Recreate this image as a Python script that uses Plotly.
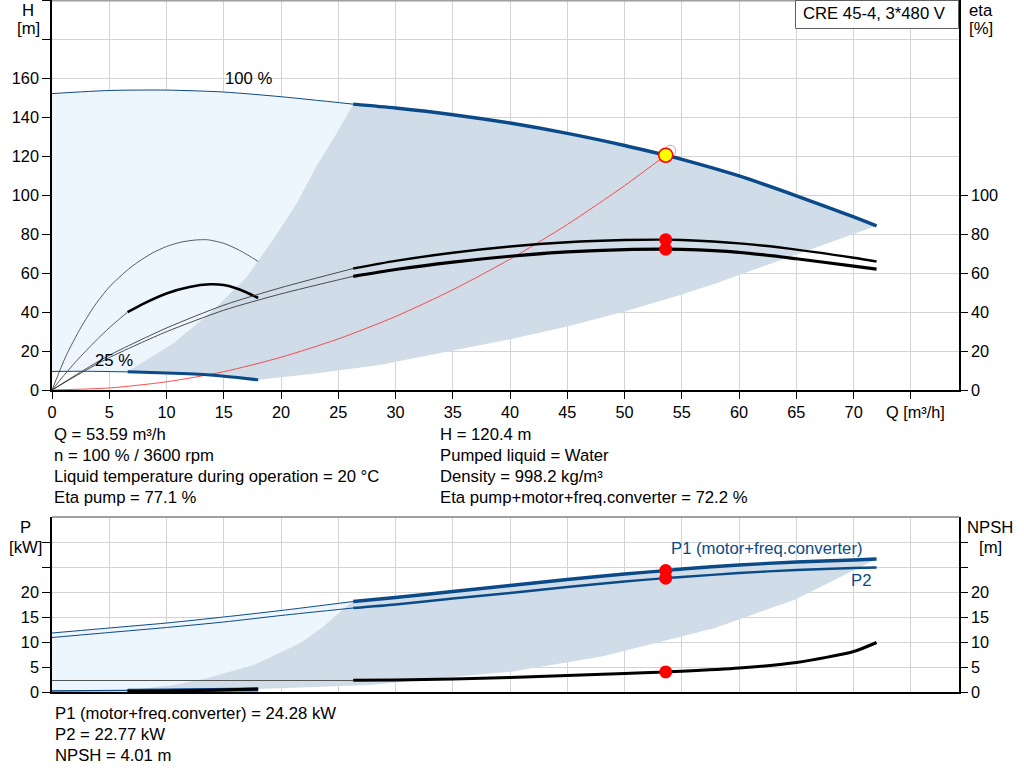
import plotly.graph_objects as go

# ---- data ----
# 100 % speed, head curve (thin part then thick part)
H100_THIN_Q = [0, 5, 10, 15, 20, 26.3]
H100_THIN_H = [152, 153.6, 153.8, 152.8, 150.4, 146.6]
H100_Q = [26.3, 30, 35, 40, 45, 50, 53.59, 55, 60, 65, 70, 72]
H100_H = [146.6, 144.6, 141.2, 136.9, 131.6, 125.4, 120.4, 118.3, 109.8, 99.6, 88.8, 84.2]

# 25 % speed, head curve
H25_THIN_Q = [0, 3, 6.6]
H25_THIN_H = [9.5, 9.6, 9.3]
H25_Q = [6.6, 10, 13.8, 16, 18]
H25_H = [9.3, 8.7, 7.7, 6.5, 5.2]

# eta pump / eta total at 100 %
ETA_P100_THIN_Q = [0, 2.5, 5, 10, 15, 20, 26.3]
ETA_P100_THIN = [0, 9.2, 17.8, 31.8, 43.5, 52.5, 62.3]
ETA_T100_THIN = [0, 8.6, 16.6, 29.9, 40.9, 49.3, 58.3]
ETA100_Q = [26.3, 30, 35, 40, 45, 50, 53.59, 55, 60, 65, 70, 72]
ETA_P100 = [62.3, 66.2, 70.4, 73.6, 75.8, 76.9, 77.1, 76.9, 75.2, 72.0, 67.8, 65.9]
ETA_T100 = [58.3, 61.8, 65.6, 68.6, 70.8, 72.0, 72.2, 72.1, 70.6, 67.3, 63.5, 62.0]

# eta at 25 %
ETA_P25_Q = [0, 1.25, 2.5, 3.75, 5, 6.6, 7.5, 8.75, 10, 11.25, 12.5, 13.4, 13.75, 15, 16.25, 17.5, 18]
ETA_P25 = [0, 17.8, 31.8, 43.5, 52.8, 61.6, 65.6, 70.2, 73.6, 75.8, 76.9, 77.1, 76.9, 75.2, 72.0, 67.8, 65.9]
ETA_T25_THIN_Q = [0, 1, 2, 3, 4, 5, 6, 6.6]
ETA_T25_THIN = [0, 7.2, 14, 20.3, 26.3, 31.9, 37, 39.9]
ETA_T25_Q = [6.6, 8, 10, 12, 13.8, 15, 16, 17, 18]
ETA_T25 = [39.9, 44.3, 49.5, 52.8, 54.2, 53.8, 52.3, 50.0, 47.2]

# system curve
SYS_Q = [0, 5, 10, 15, 20, 25, 30, 35, 40, 45, 50, 53.59]
SYS_H = [0, 1.05, 4.2, 9.4, 16.8, 26.2, 37.7, 51.4, 67.1, 84.9, 104.8, 120.4]

# operating range boundaries (top)
EDGE_Q = [6.6, 10.6, 14.1, 17, 19.3, 21.4, 23.1, 24.9, 26.3]
EDGE_H = [9.3, 24, 41, 58, 77, 96, 115, 132, 146.6]
LOW_Q = [72, 65, 58, 55, 50, 45, 40, 35, 28.6, 23, 18]
LOW_H = [84.2, 69.5, 54.8, 49, 40.2, 32.6, 26, 20.2, 12.8, 8.5, 5.2]

# power curves
P_THIN_Q = [0, 5, 10, 15, 20, 26.3]
P1_THIN = [11.8, 12.8, 13.8, 15.0, 16.3, 18.1]
P2_THIN = [10.9, 11.9, 12.9, 14.0, 15.3, 16.8]
P_Q = [26.3, 30, 35, 40, 45, 50, 53.59, 55, 60, 65, 70, 72]
P1 = [18.1, 18.9, 20.1, 21.3, 22.5, 23.6, 24.28, 24.6, 25.4, 26.0, 26.4, 26.6]
P2 = [16.8, 17.5, 18.7, 19.8, 21.0, 22.1, 22.77, 23.0, 23.8, 24.4, 24.8, 24.9]
P25_THIN_Q = [0, 6.6]
P1_25_THIN = [0.25, 0.35]
P2_25_THIN = [0.17, 0.27]
P25_Q = [6.6, 10, 14, 18]
P1_25 = [0.35, 0.42, 0.5, 0.6]
P2_25 = [0.27, 0.31, 0.36, 0.4]

# NPSH
NPSH_THIN_Q = [0, 26.3]
NPSH_THIN = [2.3, 2.3]
NPSH_Q = [26.3, 30, 35, 40, 45, 50, 53.59, 55, 60, 65, 70, 72]
NPSH = [2.35, 2.4, 2.6, 2.9, 3.3, 3.7, 4.01, 4.15, 4.8, 5.9, 8.1, 9.9]
NPSH25_Q = [6.6, 10, 14, 18]
NPSH25 = [0.15, 0.22, 0.35, 0.62]

# operating range boundaries (bottom)
P_EDGE_Q = [6.6, 10.6, 13.5, 17.6, 21.7, 23.7, 25.7, 26.3]
P_EDGE_P = [0.35, 1.4, 2.75, 5.4, 9.8, 13.1, 17.1, 18.1]
P_LOW_Q = [72, 64.9, 57.9, 48, 40.2, 35, 27.8, 18]
P_LOW_P = [26.6, 18.5, 12.8, 7.1, 4.1, 3.0, 1.4, 0.6]

# duty point
DUTY_Q = 53.59
DUTY_H = 120.4
DUTY_ETA = [77.1, 72.2]
DUTY_P = [24.28, 22.77]
DUTY_NPSH = 4.01

X_TICKS = list(range(0, 80, 5))
X_TEXT = [str(v) for v in range(0, 75, 5)] + ["  Q [m³/h]"]

INFO_LEFT = ["Q = 53.59 m³/h", "n = 100 % / 3600 rpm",
             "Liquid temperature during operation = 20 °C", "Eta pump = 77.1 %"]
INFO_RIGHT = ["H = 120.4 m", "Pumped liquid = Water",
              "Density = 998.2 kg/m³", "Eta pump+motor+freq.converter = 72.2 %"]
INFO_BOTTOM = ["P1 (motor+freq.converter) = 24.28 kW", "P2 = 22.77 kW", "NPSH = 4.01 m"]

BLUE = "#0b4a88"
LIGHT = "#edf5fd"
DARK = "#d0dce8"
FONT = "Liberation Sans, Arial, sans-serif"
TXT = 16.7   # annotation text size
TCK = 16.3   # tick label size

# figure pixel geometry
W, HGT = 1024, 781
ML, MR, MT, MB = 52, 65, 0, 89
PW = W - ML - MR
PH = HGT - MT - MB


def px(x):
    return (x - ML) / PW


def py(y):
    return 1 - (y - MT) / PH


fig = go.Figure()


def line(x, y, color, width, xa="x", ya="y"):
    fig.add_trace(go.Scatter(x=x, y=y, mode="lines", xaxis=xa, yaxis=ya,
                             line=dict(color=color, width=width, shape="spline",
                                       smoothing=0.7),
                             hoverinfo="skip"))


def poly(x, y, color, xa="x", ya="y"):
    fig.add_trace(go.Scatter(x=x, y=y, mode="lines", fill="toself", fillcolor=color,
                             line=dict(width=0, color=color), xaxis=xa, yaxis=ya,
                             hoverinfo="skip"))


# top: regions
poly(H100_THIN_Q + EDGE_Q[::-1] + H25_THIN_Q[::-1],
     H100_THIN_H + EDGE_H[::-1] + H25_THIN_H[::-1], LIGHT)
poly(EDGE_Q + H100_Q + LOW_Q + H25_Q[::-1],
     EDGE_H + H100_H + LOW_H + H25_H[::-1], DARK)

# top: curves
line(SYS_Q, SYS_H, "#ff3a3a", 0.9)
line(ETA_P25_Q, ETA_P25, "#4a4a4a", 0.9)
line(ETA_T25_THIN_Q, ETA_T25_THIN, "#4a4a4a", 0.9)
line(ETA_T25_Q, ETA_T25, "black", 2.6)
line(ETA_P100_THIN_Q, ETA_P100_THIN, "#3a3a3a", 0.9)
line(ETA_P100_THIN_Q, ETA_T100_THIN, "#3a3a3a", 0.9)
line(ETA100_Q, ETA_P100, "black", 2.4)
line(ETA100_Q, ETA_T100, "black", 3.2)
line(H100_THIN_Q, H100_THIN_H, BLUE, 1)
line(H100_Q, H100_H, BLUE, 3.5)
line(H25_THIN_Q, H25_THIN_H, BLUE, 1)
line(H25_Q, H25_H, BLUE, 3)

fig.add_trace(go.Scatter(x=[DUTY_Q, DUTY_Q], y=DUTY_ETA, mode="markers",
                         marker=dict(color="#ff0000", size=13), hoverinfo="skip"))
fig.add_trace(go.Scatter(x=[DUTY_Q + 0.4], y=[DUTY_H + 2.3], mode="markers",
                         marker=dict(symbol="circle-open", color="#ff8a8a", size=11,
                                     line=dict(width=1)), hoverinfo="skip"))
fig.add_trace(go.Scatter(x=[DUTY_Q], y=[DUTY_H], mode="markers",
                         marker=dict(color="#ffff00", size=14,
                                     line=dict(color="#ff0000", width=1.6)),
                         hoverinfo="skip"))

# bottom: regions
poly(P_THIN_Q + P_EDGE_Q[::-1] + P25_THIN_Q[::-1],
     P1_THIN + P_EDGE_P[::-1] + P1_25_THIN[::-1], LIGHT, "x2", "y3")
poly(P_EDGE_Q + P_Q + P_LOW_Q + P25_Q[::-1],
     P_EDGE_P + P1 + P_LOW_P + P1_25[::-1], DARK, "x2", "y3")

# bottom: curves
line(NPSH_THIN_Q, NPSH_THIN, "#555555", 1, "x2", "y3")
line(P_THIN_Q, P1_THIN, BLUE, 1, "x2", "y3")
line(P_THIN_Q, P2_THIN, BLUE, 1, "x2", "y3")
line(P_Q, P1, BLUE, 3.4, "x2", "y3")
line(P_Q, P2, BLUE, 2.4, "x2", "y3")
line(P25_THIN_Q, P1_25_THIN, BLUE, 1, "x2", "y3")
line(P25_THIN_Q, P2_25_THIN, BLUE, 1, "x2", "y3")
line(P25_Q, P1_25, BLUE, 3, "x2", "y3")
line(P25_Q, P2_25, BLUE, 3, "x2", "y3")
line(NPSH25_Q, NPSH25, "black", 3, "x2", "y3")
line(NPSH_Q, NPSH, "black", 3, "x2", "y3")

fig.add_trace(go.Scatter(x=[DUTY_Q] * 3, y=DUTY_P + [DUTY_NPSH], mode="markers",
                         xaxis="x2", yaxis="y3",
                         marker=dict(color="#ff0000", size=13), hoverinfo="skip"))

TOP_DOM = [py(390), 1]
BOT_DOM = [0, py(517)]
grid = dict(showgrid=True, gridcolor="#d4d4d4", gridwidth=1.3, zeroline=False)
tickfont = dict(family=FONT, size=TCK, color="black")

fig.update_layout(
    width=W, height=HGT,
    margin=dict(l=ML, r=MR, t=MT, b=MB),
    paper_bgcolor="white", plot_bgcolor="white",
    showlegend=False,
    font=dict(family=FONT, size=TXT, color="black"),
    xaxis=dict(domain=[0, 1], anchor="y", range=[0, 79.2], tickmode="array",
               tickvals=X_TICKS, ticktext=X_TEXT, ticks="outside", ticklen=7,
               tickcolor="black", showline=True, linecolor="black", linewidth=1.5,
               tickfont=tickfont, **grid),
    yaxis=dict(domain=TOP_DOM, anchor="x", range=[0, 200], tickmode="array",
               tickvals=list(range(0, 201, 20)),
               ticktext=[str(v) for v in range(0, 161, 20)] + ["", ""],
               ticks="outside", ticklen=8, tickcolor="black", showline=True,
               linecolor="black", linewidth=1.5, tickfont=tickfont, **grid),
    yaxis2=dict(overlaying="y", anchor="x", side="right", range=[0, 200],
                tickmode="array", tickvals=list(range(0, 101, 20)),
                ticks="outside", ticklen=7, tickcolor="black", showline=True,
                linecolor="black", linewidth=1.5, showgrid=False, zeroline=False,
                tickfont=tickfont),
    xaxis2=dict(domain=[0, 1], anchor="y3", range=[0, 79.2], tickmode="array",
                tickvals=X_TICKS, showticklabels=False, ticks="", showline=True,
                linecolor="black", linewidth=1.5, **grid),
    yaxis3=dict(domain=BOT_DOM, anchor="x2", range=[0, 35], tickmode="array",
                tickvals=list(range(0, 31, 5)),
                ticktext=[str(v) for v in range(0, 21, 5)] + ["", ""],
                ticks="outside", ticklen=8, tickcolor="black", showline=True,
                linecolor="black", linewidth=1.5, tickfont=tickfont, **grid),
    yaxis4=dict(overlaying="y3", anchor="x2", side="right", range=[0, 35],
                tickmode="array", tickvals=list(range(0, 31, 5)),
                ticktext=[str(v) for v in range(0, 21, 5)] + ["", ""],
                ticks="outside", ticklen=7, tickcolor="black", showline=True,
                linecolor="black", linewidth=1.5, showgrid=False, zeroline=False,
                tickfont=tickfont),
)
# keep right-hand axes visible
fig.add_trace(go.Scatter(x=[None], y=[None], yaxis="y2", xaxis="x"))
fig.add_trace(go.Scatter(x=[None], y=[None], yaxis="y4", xaxis="x2"))

# frame tops and title box
fig.add_shape(type="line", xref="paper", yref="paper", x0=0, x1=1, y0=py(0.5), y1=py(0.5),
              line=dict(color="#a0a0a0", width=2))
fig.add_shape(type="line", xref="paper", yref="paper", x0=0, x1=1, y0=py(517), y1=py(517),
              line=dict(color="#a0a0a0", width=2))
fig.add_shape(type="rect", xref="paper", yref="paper", x0=px(795.5), x1=px(958.5),
              y0=py(28.5), y1=py(0.5), line=dict(color="#606060", width=1),
              fillcolor="white")


def text(x, y, s, anchor="left", color="black"):
    fig.add_annotation(x=px(x), y=py(y), xref="paper", yref="paper", text=s,
                       showarrow=False, xanchor=anchor, yanchor="middle",
                       font=dict(family=FONT, size=TXT, color=color))


text(801, 14, "CRE 45-4, 3*480 V")
text(28, 10, "H", "center")
text(28, 29, "[m]", "center")
text(981, 10, "eta", "center")
text(981, 29, "[%]", "center")
text(25, 527, "P", "center")
text(25, 547, "[kW]", "center")
text(990, 527, "NPSH", "center")
text(990, 547, "[m]", "center")
text(248, 79, "100 %", "center")
text(114, 360, "25 %", "center")
text(767, 548, "P1 (motor+freq.converter)", "center", BLUE)
text(861, 580, "P2", "center", BLUE)

for i, s in enumerate(INFO_LEFT):
    text(52, 434 + i * 21.3, s)
for i, s in enumerate(INFO_RIGHT):
    text(438, 434 + i * 21.3, s)
for i, s in enumerate(INFO_BOTTOM):
    text(53, 713 + i * 21.4, s)

# the page is photographed from its top-left corner: drop the default body margin
fig.write_html("out.html", config={"displayModeBar": False},
               post_script="document.body.style.margin='0px';")
